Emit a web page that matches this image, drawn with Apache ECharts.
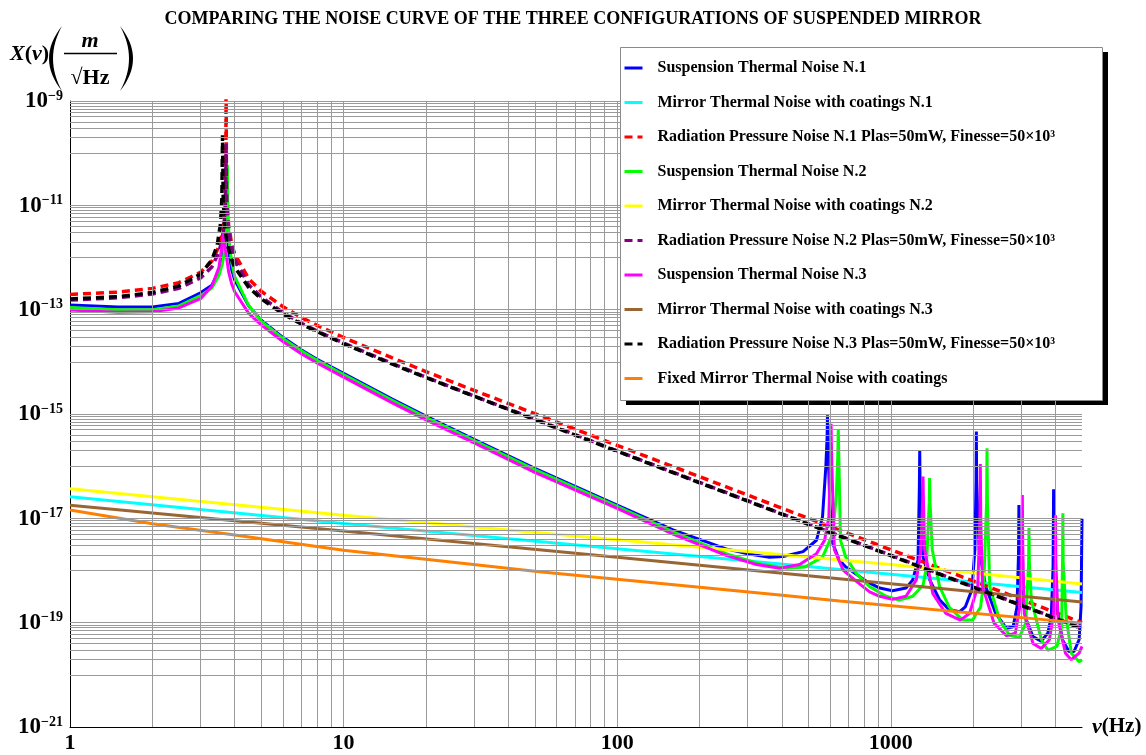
<!DOCTYPE html>
<html>
<head>
<meta charset="utf-8">
<script src="https://cdn.jsdelivr.net/npm/echarts@6/dist/echarts.min.js"></script>
<style>
  html, body { margin: 0; padding: 0; background: #ffffff; }
  #chart { width: 1146px; height: 755px; }
</style>
</head>
<body>
<div id="chart"></div>
<script>
// Noise spectral densities X(nu) in m/sqrt(Hz), pairs of [frequency Hz, amplitude]

// Suspension thermal noise, configuration 1
const suspN1 = [
  [1, 1.23e-13], [1.5, 1.12e-13], [2, 1.12e-13], [2.5, 1.32e-13], [3, 2.1e-13], [3.3, 2.95e-13],
  [3.5, 5.4e-13], [3.6, 9.5e-13], [3.65, 1.6e-12], [3.69, 3.7e-12], [3.71, 6e-12], [3.72, 1.0e-11],
  [3.73, 6e-12], [3.75, 3.6e-12], [3.8, 1.35e-12], [3.9, 5.8e-13], [4, 3.7e-13], [4.5, 1.17e-13],
  [5, 6.3e-14], [6, 2.95e-14], [7, 1.7e-14], [8, 1.12e-14], [10, 6.0e-15], [15, 1.95e-15],
  [20, 9.1e-16], [30, 3.26e-16], [50, 9.1e-17], [100, 1.8e-17], [160, 6.0e-18], [250, 2.6e-18],
  [300, 2.1e-18], [360, 1.8e-18], [404, 1.85e-18], [478, 2.3e-18], [535, 3.8e-18], [563, 1.07e-17],
  [579, 9.8e-17], [585, 3.5e-16], [587, 9.5e-16], [590, 2.5e-16], [598, 2.2e-17], [614, 3.3e-18],
  [647, 1.6e-18], [685, 1.17e-18], [814, 6.2e-19], [911, 4.6e-19], [1015, 4.1e-19], [1137, 4.6e-19],
  [1203, 6.6e-19], [1258, 1.6e-18], [1272, 4e-17], [1276, 2.0e-16], [1280, 4e-17], [1312, 1.8e-18],
  [1388, 6.6e-19], [1508, 2.75e-19], [1634, 1.78e-19], [1786, 1.62e-19], [1872, 2.0e-19], [1980, 4.3e-19],
  [2030, 2.5e-18], [2050, 5e-17], [2055, 4.6e-16], [2060, 5e-17], [2105, 2.5e-18], [2224, 4.9e-19],
  [2418, 1.5e-19], [2647, 7.8e-20], [2800, 8.3e-20], [2893, 2.0e-19], [2930, 2e-18], [2940, 1.8e-17],
  [2950, 2e-18], [2978, 4.9e-19], [3130, 1.12e-19], [3310, 5.4e-20], [3545, 4.4e-20], [3750, 6.3e-20],
  [3860, 1.3e-19], [3920, 1.2e-18], [3937, 3.6e-17], [3950, 1.2e-18], [4043, 2.0e-19], [4240, 4.7e-20],
  [4480, 2.8e-20], [4675, 2.8e-20], [4880, 4.7e-20], [4960, 2e-19], [5000, 9.8e-18]
];

// Mirror thermal noise with coatings, configuration 1
const mirrorN1 = [[1, 2.6e-17], [10, 8.0e-18], [100, 2.6e-18], [1000, 8.5e-19], [5000, 3.8e-19]];

// Radiation pressure noise, configuration 1
const radN1 = [
  [1, 1.96e-13], [1.5, 2.17e-13], [2, 2.56e-13], [2.5, 3.3e-13], [3, 5.2e-13], [3.3, 8.5e-13],
  [3.5, 1.6e-12], [3.6, 2.9e-12], [3.65, 4.9e-12], [3.69, 1.1e-11], [3.71, 3.3e-11], [3.72, 3e-9],
  [3.73, 3.5e-11], [3.75, 1.1e-11], [3.8, 4.2e-12], [3.9, 1.8e-12], [4, 1.17e-12], [4.5, 3.9e-13],
  [5, 2.25e-13], [6, 1.14e-13], [7, 7.1e-14], [8, 5.0e-14], [10, 2.93e-14], [15, 1.2e-14],
  [20, 6.5e-15], [30, 2.83e-15], [50, 1.02e-15], [100, 2.5e-16], [200, 6.3e-17], [500, 1.0e-17],
  [1000, 2.5e-18], [2000, 6.3e-19], [5000, 1.0e-19]
];

// Suspension thermal noise, configuration 2
const suspN2 = [
  [1, 1.1e-13], [1.5, 1.0e-13], [2, 1.0e-13], [2.5, 1.18e-13], [3, 1.85e-13], [3.3, 2.6e-13],
  [3.5, 4.5e-13], [3.6, 7.3e-13], [3.65, 1.1e-12], [3.7, 2.4e-12], [3.74, 8e-12], [3.755, 2.5e-11],
  [3.76, 6e-11], [3.765, 2.5e-11], [3.78, 7e-12], [3.82, 2.0e-12], [3.9, 8e-13], [4, 4.3e-13],
  [4.5, 1.2e-13], [5, 6.0e-14], [6, 2.8e-14], [7, 1.63e-14], [8, 1.07e-14], [10, 5.7e-15],
  [15, 1.85e-15], [20, 8.6e-16], [30, 3.1e-16], [50, 8.6e-17], [100, 1.7e-17], [160, 5.5e-18],
  [250, 2.1e-18], [330, 1.35e-18], [416, 1.1e-18], [485, 1.17e-18], [563, 1.8e-18], [614, 5.1e-18],
  [632, 2.6e-17], [640, 1.5e-16], [643, 5.0e-16], [646, 1.5e-16], [655, 3.8e-18], [685, 1.8e-18],
  [749, 8.7e-19], [837, 4.9e-19], [962, 3.2e-19], [1075, 2.7e-19], [1203, 3.2e-19], [1312, 5.2e-19],
  [1350, 1.17e-18], [1382, 2e-17], [1387, 5.9e-17], [1392, 2e-17], [1418, 2.5e-18], [1508, 4.9e-19],
  [1634, 2.0e-19], [1830, 1.12e-19], [1990, 1.12e-19], [2130, 2.0e-19], [2190, 6.6e-19], [2240, 2e-17],
  [2248, 2.2e-16], [2256, 2e-17], [2300, 4.9e-19], [2500, 1.12e-19], [2715, 5.8e-20], [2950, 5.2e-20],
  [3115, 9.8e-20], [3190, 1.5e-18], [3200, 6.5e-18], [3210, 1.5e-18], [3265, 2.7e-19], [3555, 4.7e-20],
  [3750, 2.95e-20], [4050, 3.5e-20], [4210, 8.3e-20], [4245, 1.5e-18], [4256, 1.25e-17], [4267, 1.5e-18],
  [4375, 1.3e-19], [4570, 2.6e-20], [4880, 1.78e-20], [5000, 1.95e-20]
];

// Mirror thermal noise with coatings, configuration 2
const mirrorN2 = [[1, 3.7e-17], [10, 1.15e-17], [100, 3.9e-18], [1000, 1.3e-18], [5000, 5.5e-19]];

// Radiation pressure noise, configuration 2
const radN2 = [
  [1, 1.53e-13], [1.5, 1.69e-13], [2, 2.0e-13], [2.5, 2.57e-13], [3, 4.06e-13], [3.3, 6.6e-13],
  [3.5, 1.25e-12], [3.6, 2.26e-12], [3.65, 3.8e-12], [3.69, 8.6e-12], [3.71, 2.6e-11], [3.72, 1.5e-10],
  [3.73, 2.7e-11], [3.75, 8.6e-12], [3.8, 3.3e-12], [3.9, 1.4e-12], [4, 9.1e-13], [4.5, 3.0e-13],
  [5, 1.76e-13], [6, 8.9e-14], [7, 5.5e-14], [8, 3.9e-14], [10, 2.29e-14], [15, 9.4e-15],
  [20, 5.1e-15], [30, 2.2e-15], [50, 8.0e-16], [100, 1.96e-16], [200, 4.9e-17], [500, 7.8e-18],
  [1000, 1.96e-18], [2000, 4.9e-19], [5000, 7.8e-20]
];

// Suspension thermal noise, configuration 3
const suspN3 = [
  [1, 9.8e-14], [1.5, 8.9e-14], [2, 9.1e-14], [2.5, 1.08e-13], [3, 1.62e-13], [3.3, 2.8e-13],
  [3.5, 6.4e-13], [3.58, 1.45e-12], [3.62, 2.3e-12], [3.64, 3.0e-12], [3.66, 2.3e-12], [3.7, 1.4e-12],
  [3.8, 5.3e-13], [3.9, 3.1e-13], [4, 2.2e-13], [4.5, 8.5e-14], [5, 5.1e-14], [6, 2.45e-14],
  [7, 1.43e-14], [8, 9.5e-15], [10, 5.1e-15], [15, 1.65e-15], [20, 7.7e-16], [30, 2.8e-16],
  [50, 7.6e-17], [100, 1.55e-17], [160, 5.0e-18], [250, 1.95e-18], [323, 1.3e-18], [393, 1.1e-18],
  [464, 1.3e-18], [535, 2.1e-18], [573, 3.8e-18], [594, 1.07e-17], [602, 1.5e-16], [605, 6.5e-16],
  [608, 1.5e-16], [622, 2.5e-18], [670, 1.02e-18], [749, 6.2e-19], [837, 3.9e-19], [911, 3.2e-19],
  [1015, 2.8e-19], [1137, 3.2e-19], [1240, 6.6e-19], [1290, 2.5e-18], [1307, 2e-17], [1312, 6.3e-17],
  [1317, 2e-17], [1330, 2.5e-18], [1425, 3.6e-19], [1590, 1.5e-19], [1795, 1.12e-19], [1940, 1.5e-19],
  [2080, 4.9e-19], [2118, 1e-17], [2125, 1.1e-16], [2132, 1e-17], [2165, 4.9e-19], [2385, 9.8e-20],
  [2647, 5.6e-20], [2853, 6.3e-20], [2960, 2.0e-19], [3018, 3e-18], [3027, 2.8e-17], [3036, 3e-18],
  [3075, 1.5e-19], [3310, 4.0e-20], [3548, 3.2e-20], [3800, 4.7e-20], [3937, 1.5e-19], [3990, 1.5e-18],
  [4000, 1.15e-17], [4010, 1.5e-18], [4092, 1.12e-19], [4350, 2.6e-20], [4570, 1.95e-20], [4880, 2.6e-20],
  [5000, 3.5e-20]
];

// Mirror thermal noise with coatings, configuration 3
const mirrorN3 = [[1, 1.78e-17], [10, 5.7e-18], [100, 1.8e-18], [1000, 5.6e-19], [5000, 2.5e-19]];

// Radiation pressure noise, configuration 3
const radN3 = [
  [1, 1.6e-13], [1.5, 1.78e-13], [2, 2.13e-13], [2.5, 2.85e-13], [3, 4.8e-13], [3.3, 9.0e-13],
  [3.45, 1.7e-12], [3.55, 4.5e-12], [3.59, 1.35e-11], [3.61, 2.2e-10], [3.63, 1.3e-11], [3.67, 4.4e-12],
  [3.75, 1.85e-12], [3.9, 8.9e-13], [4, 6.5e-13], [4.5, 2.67e-13], [5, 1.61e-13], [6, 8.3e-14],
  [7, 5.3e-14], [8, 3.8e-14], [10, 2.22e-14], [15, 9.1e-15], [20, 5.0e-15], [30, 2.19e-15],
  [50, 7.8e-16], [100, 1.93e-16], [200, 4.8e-17], [500, 7.7e-18], [1000, 1.93e-18], [2000, 4.8e-19],
  [5000, 7.7e-20]
];

// Thermal noise of the fixed mirror with coatings
const fixedMirror = [
  [1, 1.45e-17], [2, 7.9e-18], [4, 4.8e-18], [10, 2.45e-18], [52, 9.5e-19], [393, 3.4e-19],
  [650, 2.6e-19], [5000, 9.8e-20]
];

// Axis ranges (amplitude in m/sqrt(Hz))
const X_MIN = 1, X_MAX = 5000;
const Y_MIN_EXP = -21, Y_MAX_EXP = -9;

// The amplitude axis works in units of 1e-21 m/sqrt(Hz) so the numbers stay
// inside the library's numeric precision; labels convert back to 10^exp.
const Y_UNIT_EXP = Y_MIN_EXP;
const toUnits = v => v * Math.pow(10, -Y_UNIT_EXP);
const toPlot = arr => arr.map(([f, v]) => [f, toUnits(v)]);

const SERIF = "'Liberation Serif', 'Times New Roman', serif";
const DASH = [8, 5];

const curves = [
  { name: 'Suspension Thermal Noise N.1', data: suspN1, color: '#0000ff' },
  { name: 'Mirror Thermal Noise with coatings N.1', data: mirrorN1, color: '#00ffff' },
  { name: 'Radiation Pressure Noise N.1 Plas=50mW, Finesse=50×10³', data: radN1, color: '#ff0000', dash: true },
  { name: 'Suspension Thermal Noise N.2', data: suspN2, color: '#00ff00' },
  { name: 'Mirror Thermal Noise with coatings N.2', data: mirrorN2, color: '#ffff00' },
  { name: 'Radiation Pressure Noise N.2 Plas=50mW, Finesse=50×10³', data: radN2, color: '#800080', dash: true },
  { name: 'Suspension Thermal Noise N.3', data: suspN3, color: '#ff00ff' },
  { name: 'Mirror Thermal Noise with coatings N.3', data: mirrorN3, color: '#996633' },
  { name: 'Radiation Pressure Noise N.3 Plas=50mW, Finesse=50×10³', data: radN3, color: '#000000', dash: true },
  { name: 'Fixed Mirror Thermal Noise with coatings', data: fixedMirror, color: '#ff8000' }
];

// Grid lines: every 1..9 x 10^k along frequency; on the amplitude axis the
// labelled decades carry the 9 subdivisions of the decade below them.
const xGrid = [];
for (let e = 0; e <= 3; e++) {
  for (let k = 1; k <= 9; k++) {
    const v = k * Math.pow(10, e);
    if (v > X_MIN && v < X_MAX) xGrid.push(v);
  }
}
const yGrid = [];
for (let e = Y_MAX_EXP; e > Y_MIN_EXP; e -= 2) {
  yGrid.push(Math.pow(10, e - Y_UNIT_EXP));
  for (let k = 1; k <= 9; k++) yGrid.push(k * Math.pow(10, e - 1 - Y_UNIT_EXP));
}

const gridSeries = {
  type: 'line',
  name: '__grid',
  data: [[X_MIN, 1]],
  symbol: 'none',
  lineStyle: { opacity: 0 },
  silent: true,
  z: 1,
  markLine: {
    silent: true,
    symbol: ['none', 'none'],
    label: { show: false },
    emphasis: { disabled: true },
    animation: false,
    lineStyle: { color: '#9a9a9a', width: 1, type: 'solid' },
    data: xGrid.map(v => ({ xAxis: v })).concat(yGrid.map(v => ({ yAxis: v })))
  }
};

const curveSeries = curves.map(c => ({
  type: 'line',
  name: c.name,
  data: toPlot(c.data),
  showSymbol: false,
  symbol: 'none',
  clip: true,
  z: 2,
  itemStyle: { color: c.color },
  lineStyle: { color: c.color, width: c.dash ? 3.5 : 3, type: c.dash ? DASH : 'solid' },
  emphasis: { disabled: true }
}));

const isPow10 = v => Math.abs(Math.log10(v) - Math.round(Math.log10(v))) < 1e-6;

// Tall thin bracket outline (crescent) for the unit expression
function bracket(xTip, bulge, thick, yTop, yBot) {
  const outer = [], inner = [];
  const n = 16;
  for (let i = 0; i <= n; i++) {
    const t = i / n;
    const w = 4 * t * (1 - t);
    const y = yTop + (yBot - yTop) * t;
    outer.push([xTip + bulge * w, y]);
    inner.push([xTip + (bulge - thick) * w, y]);
  }
  return outer.concat(inner.reverse());
}

const chart = echarts.init(document.getElementById('chart'), null, { renderer: 'canvas' });

chart.setOption({
  animation: false,
  backgroundColor: '#ffffff',
  title: {
    text: 'COMPARING THE NOISE CURVE OF THE THREE CONFIGURATIONS OF SUSPENDED MIRROR',
    left: 'center',
    top: 5,
    textStyle: { fontFamily: SERIF, fontWeight: 'bold', fontSize: 18, color: '#000' }
  },
  grid: { left: 70, right: 64, top: 101, bottom: 28, containLabel: false },
  xAxis: {
    type: 'log',
    logBase: 10,
    min: X_MIN,
    max: X_MAX,
    splitNumber: 4,
    name: '{i|ν}{r|(Hz)}',
    nameLocation: 'end',
    nameGap: 10,
    nameTextStyle: {
      rich: {
        i: { fontFamily: SERIF, fontStyle: 'italic', fontWeight: 'bold', fontSize: 22, color: '#000' },
        r: { fontFamily: SERIF, fontWeight: 'bold', fontSize: 21, color: '#000' }
      }
    },
    axisLine: { show: true, lineStyle: { color: '#000', width: 1 } },
    axisTick: { show: false },
    splitLine: { show: false },
    minorSplitLine: { show: false },
    axisLabel: {
      showMaxLabel: false,
      margin: 5,
      fontFamily: SERIF,
      fontWeight: 'bold',
      fontSize: 22,
      color: '#000',
      formatter: v => (isPow10(v) ? String(Math.round(v)) : '')
    }
  },
  yAxis: {
    type: 'log',
    logBase: 10,
    min: 1,
    max: Math.pow(10, Y_MAX_EXP - Y_UNIT_EXP),
    interval: 1,
    axisLine: { show: true, lineStyle: { color: '#000', width: 1 } },
    axisTick: { show: false },
    splitLine: { show: false },
    minorSplitLine: { show: false },
    axisLabel: {
      margin: 7,
      interval: 0,
      formatter: v => {
        if (!isPow10(v)) return '';
        const e = Math.round(Math.log10(v)) + Y_UNIT_EXP;
        if (Math.abs(e) % 2 === 0) return '';
        return '{b|10}{s|−' + (-e) + '}';
      },
      rich: {
        b: { fontFamily: SERIF, fontWeight: 'bold', fontSize: 23, lineHeight: 24, color: '#000', verticalAlign: 'bottom' },
        s: { fontFamily: SERIF, fontWeight: 'bold', fontSize: 14, lineHeight: 13, color: '#000', verticalAlign: 'top' }
      }
    }
  },
  legend: {
    data: curves.map(c => c.name),
    orient: 'vertical',
    left: 620,
    top: 47,
    padding: [11, 30, 12, 3],
    itemWidth: 18,
    itemHeight: 14,
    itemGap: 14.5,
    z: 10,
    selectedMode: false,
    backgroundColor: 'transparent',
    itemStyle: { opacity: 0 },
    lineStyle: { width: 3 },
    textStyle: {
      fontFamily: SERIF,
      fontWeight: 'bold',
      fontSize: 16,
      lineHeight: 20,
      color: '#000',
      padding: [0, 0, 0, 10]
    }
  },
  graphic: [
    { type: 'rect', z: 5, shape: { x: 626, y: 52, width: 482, height: 353 }, style: { fill: '#000' } },
    { type: 'rect', z: 6, shape: { x: 620.5, y: 47.5, width: 482, height: 353 }, style: { fill: '#fff', stroke: '#8a8a8a', lineWidth: 1 } },
    {
      type: 'text', z: 6, x: 10, y: 54,
      style: {
        text: '{i|X}{r|(}{i|ν}{r|)}',
        verticalAlign: 'middle', textVerticalAlign: 'middle',
        rich: {
          i: { fontFamily: SERIF, fontStyle: 'italic', fontWeight: 'bold', fontSize: 22, fill: '#000' },
          r: { fontFamily: SERIF, fontWeight: 'bold', fontSize: 22, fill: '#000' }
        }
      }
    },
    { type: 'polygon', z: 6, shape: { points: bracket(62, -13, -4, 26, 91) }, style: { fill: '#000' } },
    { type: 'polygon', z: 6, shape: { points: bracket(120, 13, 4, 26, 91) }, style: { fill: '#000' } },
    {
      type: 'text', z: 6, x: 90, y: 41,
      style: {
        text: 'm', fontFamily: SERIF, fontStyle: 'italic', fontWeight: 'bold', fontSize: 22, fill: '#000',
        align: 'center', textAlign: 'center', verticalAlign: 'middle', textVerticalAlign: 'middle'
      }
    },
    { type: 'line', z: 6, shape: { x1: 64, y1: 53.5, x2: 117, y2: 53.5 }, style: { stroke: '#000', lineWidth: 1.5 } },
    {
      type: 'text', z: 6, x: 90, y: 78,
      style: {
        text: '√Hz', fontFamily: SERIF, fontWeight: 'bold', fontSize: 22, fill: '#000',
        align: 'center', textAlign: 'center', verticalAlign: 'middle', textVerticalAlign: 'middle'
      }
    }
  ],
  series: [gridSeries].concat(curveSeries)
});
</script>
</body>
</html>
